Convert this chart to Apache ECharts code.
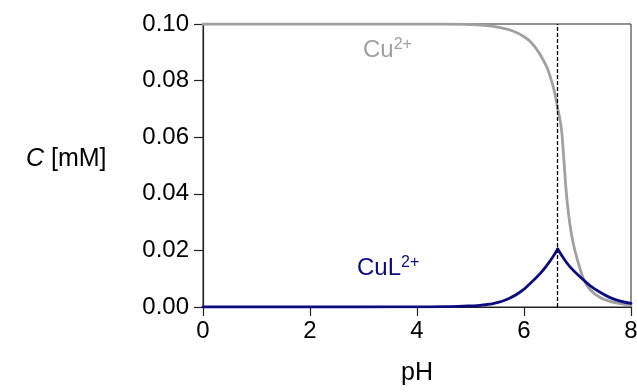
<!DOCTYPE html>
<html>
<head>
<meta charset="utf-8">
<script src="https://cdn.jsdelivr.net/npm/echarts@6/dist/echarts.min.js"></script>
<style>html,body{margin:0;padding:0;background:#fff}#c{width:637px;height:392px}</style>
</head>
<body>
<div id="c"></div>
<script>
// Data
const xTicks = [0, 2, 4, 6, 8];
const yTicks = [0.00, 0.02, 0.04, 0.06, 0.08, 0.10];
const kinkPH = 6.63;

const cuPH = [0, 1, 2, 3, 4, 4.5, 5, 5.25, 5.5, 5.75, 6.0, 6.2, 6.4, 6.5, 6.57, 6.63,
              6.68, 6.71, 6.74, 6.77, 6.8, 6.86, 6.92, 6.99, 7.11, 7.24, 7.43, 7.61, 7.8, 8.0];
const cuC = [0.1, 0.1, 0.1, 0.1, 0.1, 0.1, 0.0998, 0.0995, 0.0989, 0.0978, 0.0955, 0.0920, 0.0858, 0.0808, 0.0760, 0.0700,
             0.0655, 0.0610, 0.0535, 0.0455, 0.0385, 0.0290, 0.0225, 0.0172, 0.0100, 0.0060, 0.0033, 0.0020, 0.0012, 0.0007];

const culPH = [0, 1, 2, 3, 4, 4.5, 4.86, 5.18, 5.36, 5.55, 5.74, 5.93, 6.11, 6.3, 6.43, 6.55, 6.63,
               6.74, 6.86, 7.05, 7.24, 7.43, 7.61, 7.8, 8.0];
const culC = [0, 0, 0, 0, 0.00005, 0.0001, 0.0003, 0.0006, 0.001, 0.0018, 0.0032, 0.0053, 0.0082, 0.0118, 0.0148, 0.0180, 0.0205,
              0.0172, 0.0142, 0.0106, 0.0075, 0.0051, 0.0033, 0.0021, 0.0013];

function seg(xs, ys, before) {
  const out = [];
  for (let i = 0; i < xs.length; i++) {
    if (before ? xs[i] <= kinkPH : xs[i] >= kinkPH) out.push([xs[i], ys[i]]);
  }
  return out;
}

const FONT = '"Liberation Sans", Arial, Helvetica, sans-serif';
const GRAY = '#a0a0a0';
const NAVY = '#0b0b80';

const chart = echarts.init(document.getElementById('c'), null, {renderer: 'canvas'});
function lineSeries(data, color, z, sm) {
  return {
    type: 'line', data: data, showSymbol: false, smooth: sm,
    lineStyle: {color: color, width: 2.8, cap: 'round', join: 'round'}, z: z, animation: false
  };
}
const series = [
  lineSeries(seg(cuPH, cuC, true), GRAY, 2, 0.5),
  lineSeries(seg(cuPH, cuC, false), GRAY, 2, 0.3),
  lineSeries(seg(culPH, culC, true), NAVY, 3, 0.5),
  lineSeries(seg(culPH, culC, false), NAVY, 3, 0.4)
];
series[0].markLine = {
  silent: true, symbol: 'none', label: {show: false},
  lineStyle: {color: '#000', type: [4, 2], width: 1.3},
  data: [{xAxis: kinkPH}]
};

chart.setOption({
  animation: false,
  grid: {left: 203, right: 6, top: 24, bottom: 85, show: true, borderColor: '#222', borderWidth: 1,
         containLabel: false, outerBoundsMode: 'none'},
  xAxis: {
    type: 'value', min: xTicks[0], max: xTicks[xTicks.length - 1], interval: 2,
    name: 'pH', nameLocation: 'middle', nameGap: 54,
    nameTextStyle: {fontFamily: FONT, fontSize: 25, color: '#000'},
    axisLine: {onZero: false, lineStyle: {color: '#222', width: 1.2}},
    axisTick: {show: true, length: 9, lineStyle: {color: '#222', width: 1.2}},
    axisLabel: {margin: 12, fontFamily: FONT, fontSize: 24, color: '#000'},
    splitLine: {show: false}
  },
  yAxis: {
    type: 'value', min: yTicks[0], max: yTicks[yTicks.length - 1], interval: 0.02,
    axisLine: {show: true, onZero: false, lineStyle: {color: '#222', width: 1.2}},
    axisTick: {show: true, length: 9, lineStyle: {color: '#222', width: 1.2}},
    axisLabel: {margin: 14, fontFamily: FONT, fontSize: 24, color: '#000',
      formatter: v => v.toFixed(2)},
    splitLine: {show: false}
  },
  graphic: [
    {type: 'text', left: 26, top: 147, style: {
      text: '{i|C} [mM]', font: '25px ' + FONT, fill: '#000',
      rich: {i: {fontStyle: 'italic', fontSize: 25, fontFamily: FONT}}}},
    {type: 'text', left: 363, top: 37, style: {
      text: 'Cu{s|2+}', font: '24px ' + FONT, fill: GRAY,
      rich: {s: {fontSize: 16, fontFamily: FONT, verticalAlign: 'top', padding: [0, 0, 10, 0], fill: GRAY}}}},
    {type: 'text', left: 357, top: 255, style: {
      text: 'CuL{s|2+}', font: '24px ' + FONT, fill: NAVY,
      rich: {s: {fontSize: 16, fontFamily: FONT, verticalAlign: 'top', padding: [0, 0, 10, 0], fill: NAVY}}}}
  ],
  series: series
});
</script>
</body>
</html>
